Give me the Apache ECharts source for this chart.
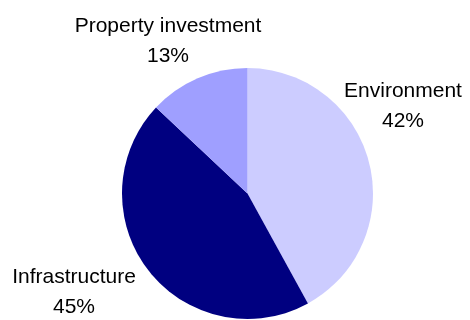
<!DOCTYPE html>
<html>
<head>
<meta charset="utf-8">
<script src="https://cdn.jsdelivr.net/npm/echarts@6/dist/echarts.min.js"></script>
<style>
html,body{margin:0;padding:0;background:#fff;}
#chart{width:470px;height:320px;}
</style>
</head>
<body>
<div id="chart"></div>
<script>
const categories = ['Environment', 'Infrastructure', 'Property investment'];
const values = [42, 45, 13];
const colors = ['#CCCCFF', '#000080', '#9F9FFF'];

// label anchor points (text layout only)
const labelAnchors = [[403, 106], [74, 292], [168, 41]];

const chart = echarts.init(document.getElementById('chart'), null, {renderer: 'canvas'});
chart.setOption({
  animation: false,
  backgroundColor: '#ffffff',
  series: [{
    type: 'pie',
    center: [247.5, 193.5],
    radius: [0, 125.5],
    startAngle: 90,
    clockwise: true,
    avoidLabelOverlap: false,
    data: categories.map((c, i) => ({name: c, value: values[i], itemStyle: {color: colors[i]}})),
    itemStyle: {borderWidth: 0},
    label: {
      show: true,
      position: 'outside',
      formatter: p => p.name + '\n' + Math.round(p.percent) + '%',
      fontFamily: 'Liberation Sans, Arial, sans-serif',
      fontSize: 21,
      lineHeight: 30,
      color: '#000',
      align: 'center'
    },
    labelLine: {show: false},
    labelLayout: function (params) {
      const a = labelAnchors[params.dataIndex];
      return {x: a[0], y: a[1], align: 'center', verticalAlign: 'middle', hideOverlap: false};
    },
    emphasis: {disabled: true}
  }]
});
</script>
</body>
</html>
